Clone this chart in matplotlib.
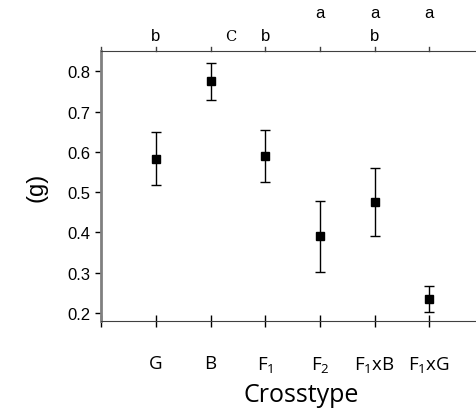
import matplotlib
matplotlib.use("Agg")
import matplotlib.pyplot as plt
import matplotlib.transforms as mtransforms

# data
crosstypes = ["G", "B", "$\\mathregular{F_1}$", "$\\mathregular{F_2}$",
              "$\\mathregular{F_1}$xB", "$\\mathregular{F_1}$xG"]
means = [0.583, 0.775, 0.590, 0.390, 0.475, 0.235]
err_hi = [0.650, 0.820, 0.655, 0.477, 0.560, 0.267]
err_lo = [0.517, 0.730, 0.525, 0.302, 0.390, 0.203]
letters_low = ["b", "", "b", "", "b", ""]
letters_high = ["", "", "", "a", "a", "a"]
positions = [1, 2, 3, 4, 5, 6]

fig = plt.figure(figsize=(4.77, 4.14), dpi=100)
ax = fig.add_axes([0.212, 0.222, 0.788, 0.652])

yerr = [[m - l for m, l in zip(means, err_lo)], [h - m for m, h in zip(means, err_hi)]]
ax.errorbar(positions, means, yerr=yerr, fmt="s", color="black", ms=6,
            ecolor="black", elinewidth=1.0, capsize=3.6, capthick=1.0)

ax.set_xlim(0, 6.87)
ax.set_ylim(0.18, 0.85)
ax.set_yticks([0.2, 0.3, 0.4, 0.5, 0.6, 0.7, 0.8])
ax.set_yticklabels(["0.2", "0.3", "0.4", "0.5", "0.6", "0.7", "0.8"],
                   family="Liberation Sans", fontsize=12)
ax.set_xticks([0] + positions)
ax.set_xticklabels([""] + crosstypes, family="Open Sans", fontsize=13.5)
ax.tick_params(axis="x", direction="inout", length=8, pad=20, width=1)
ax.tick_params(axis="y", direction="out", length=4, width=1, pad=4)

ax.spines["right"].set_visible(False)
ax.spines["top"].set_visible(True)
ax.spines["left"].set_color("#808080")
ax.spines["left"].set_linewidth(2)
ax.spines["bottom"].set_color("#404040")
ax.spines["top"].set_color("#404040")

trans = mtransforms.blended_transform_factory(ax.transData, ax.transAxes)

# top tick marks pointing upward
for p in [0] + positions:
    ax.plot([p, p], [1.0, 1.015], transform=trans, color="#404040", lw=1, clip_on=False)

ax.set_xlabel("Crosstype", family="Open Sans", fontsize=18)
ax.xaxis.set_label_coords(0.532, -0.225, transform=ax.transAxes)
ax.xaxis.label.set_va("top")
ax.set_ylabel("(g)", family="Liberation Sans", fontsize=17, labelpad=14)

for p, t in zip(positions, letters_low):
    if t:
        ax.text(p, 1.03, t, transform=trans, ha="center", va="bottom",
                family="Liberation Sans", fontsize=12)
for p, t in zip(positions, letters_high):
    if t:
        ax.text(p, 1.115, t, transform=trans, ha="center", va="bottom",
                family="Liberation Sans", fontsize=12)
ax.text(2.37, 1.03, "C", transform=trans, ha="center", va="bottom",
        family="DejaVu Serif", fontsize=10.5)

fig.savefig("out.png", dpi=100)
